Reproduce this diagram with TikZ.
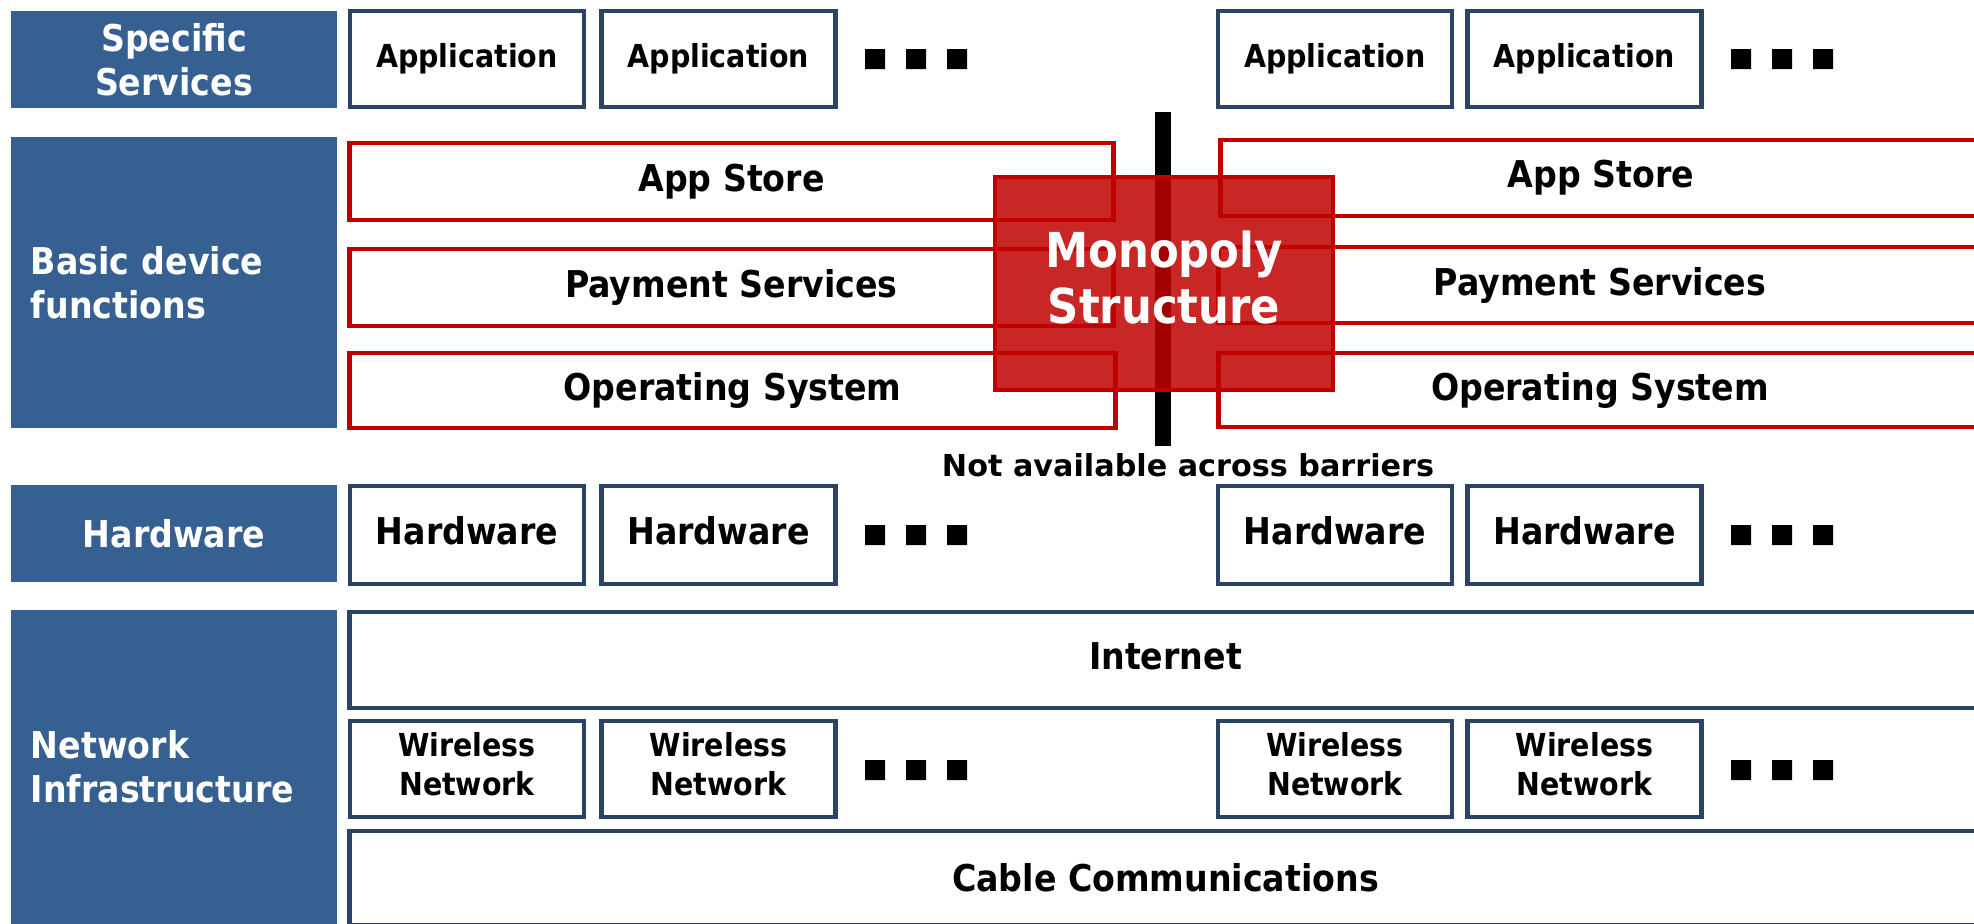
\documentclass[tikz,border=0pt]{standalone}
\usepackage{fontspec}
\setmainfont{DejaVu Sans Condensed}
\newfontfamily\widefont{DejaVu Sans}

\definecolor{lblblue}{RGB}{55,96,146}
\definecolor{boxnavy}{RGB}{43,67,101}
\definecolor{monored}{RGB}{192,0,0}

\tikzset{
  layer/.style={fill=lblblue, text=white, minimum width=3.26cm, inner sep=0pt,
    font=\bfseries\fontsize{10.5}{12.5}\selectfont, align=center},
  layerleft/.style={layer, text width=2.86cm, inner xsep=0.2cm, align=left},
  unit/.style={draw=boxnavy, line width=1.2pt, fill=white, minimum width=2.34cm,
    inner sep=0pt, font=\bfseries\fontsize{9}{11}\selectfont, align=center},
  bigunit/.style={unit, font=\bfseries\fontsize{10.5}{12.5}\selectfont},
  lockin/.style={draw=monored, line width=1.3pt, inner sep=0pt,
    font=\bfseries\fontsize{10.5}{12.5}\selectfont},
}

\begin{document}
\begin{tikzpicture}[x=0.01cm, y=-0.01cm]
            \useasboundingbox (0,0) rectangle (1974,923);
            \clip (0,0) rectangle (1974,923);

            % Layer labels on the left
            \node[layer, minimum height=0.97cm] (lblSpec) at (174,59.5) {Specific\\Services};
            \node[layerleft, minimum height=2.91cm] (lblBasic) at (174,282.5) {Basic device\\functions};
            \node[layer, minimum height=0.97cm] (lblHw) at (174,533.5) {Hardware};
            \node[layerleft, minimum height=3.14cm] (lblNet) at (174,767) {Network\\Infrastructure};

            % Applications
            \node[unit, minimum height=0.96cm] (app1) at (467,59) {Application};
            \node[unit, minimum height=0.96cm] (app2) at (718.5,59) {Application};
            \node[unit, minimum height=0.96cm] (app3) at (1335,59) {Application};
            \node[unit, minimum height=0.96cm] (app4) at (1584.5,59) {Application};
            \fill (865,49) rectangle +(20,20) (906,49) rectangle +(20,20) (947,49) rectangle +(20,20);
            \fill (1731,49) rectangle +(20,20) (1772,49) rectangle +(20,20) (1813,49) rectangle +(20,20);

            % Basic functions, split in two by the barrier
            \node[lockin, minimum width=7.63cm, minimum height=0.77cm] (store1) at (731.5,181.5) {App Store};
            \node[lockin, minimum width=7.63cm, minimum height=0.77cm] (pay1) at (731.5,287.5) {Payment Services};
            \node[lockin, minimum width=7.65cm, minimum height=0.75cm] (os1) at (732.5,390.5) {Operating System};
            \node[lockin, minimum width=7.6cm, minimum height=0.76cm] (store2) at (1601,178) {App Store};
            \node[lockin, minimum width=7.62cm, minimum height=0.76cm] (pay2) at (1600,285) {Payment Services};
            \node[lockin, minimum width=7.62cm, minimum height=0.74cm] (os2) at (1600,390) {Operating System};

            % The barrier
            \coordinate (barTop) at (1163,112);
            \coordinate (barBot) at (1163,446);
            \draw[line width=4.55pt] (barTop) -- (barBot);
            \node[font=\widefont\bfseries\fontsize{8.6}{10}\selectfont] (barNote) at (1188,465) {Not available across barriers};

            \node[draw=monored, line width=1.3pt, fill=monored, fill opacity=0.85, text opacity=1,
              text=white, minimum width=3.38cm, minimum height=2.13cm, align=center, text depth=3.4pt,
              font=\bfseries\fontsize{13.7}{15.9}\selectfont] (mono) at (1164,283.5) {Monopoly\\Structure};

            % Hardware
            \node[bigunit, minimum height=0.98cm, text depth=2.8pt] (hw1) at (467,535) {Hardware};
            \node[bigunit, minimum height=0.98cm, text depth=2.8pt] (hw2) at (718.5,535) {Hardware};
            \node[bigunit, minimum height=0.98cm, text depth=2.8pt] (hw3) at (1335,535) {Hardware};
            \node[bigunit, minimum height=0.98cm, text depth=2.8pt] (hw4) at (1584.5,535) {Hardware};
            \fill (865,525) rectangle +(20,20) (906,525) rectangle +(20,20) (947,525) rectangle +(20,20);
            \fill (1731,525) rectangle +(20,20) (1772,525) rectangle +(20,20) (1813,525) rectangle +(20,20);

            % Network infrastructure
            \node[bigunit, minimum width=16.31cm, minimum height=0.96cm, text depth=2.2pt] (inet) at (1165.5,660) {Internet};
            \node[unit, minimum height=0.96cm, text depth=2.8pt] (wl1) at (467,769) {Wireless\\Network};
            \node[unit, minimum height=0.96cm, text depth=2.8pt] (wl2) at (718.5,769) {Wireless\\Network};
            \node[unit, minimum height=0.96cm, text depth=2.8pt] (wl3) at (1335,769) {Wireless\\Network};
            \node[unit, minimum height=0.96cm, text depth=2.8pt] (wl4) at (1584.5,769) {Wireless\\Network};
            \fill (865,760) rectangle +(20,20) (906,760) rectangle +(20,20) (947,760) rectangle +(20,20);
            \fill (1731,760) rectangle +(20,20) (1772,760) rectangle +(20,20) (1813,760) rectangle +(20,20);
            \node[bigunit, minimum width=16.31cm, minimum height=0.94cm] (cable) at (1165.5,878) {Cable Communications};

\end{tikzpicture}
\end{document}
